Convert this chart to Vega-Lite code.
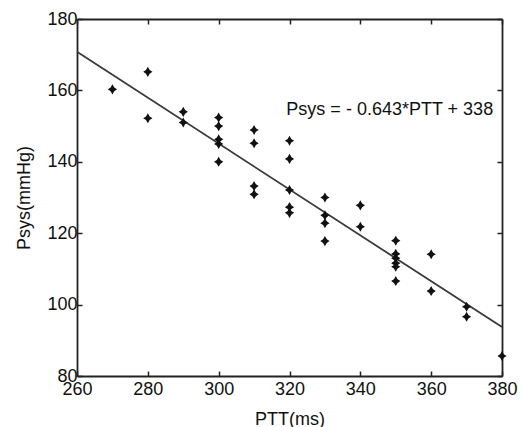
{
  "$schema": "https://vega.github.io/schema/vega-lite/v6.json",
  "width": 425,
  "height": 357,
  "autosize": "none",
  "padding": {"left": 77, "top": 19, "right": 21, "bottom": 51},
  "background": "white",
  "config": {
    "view": {"stroke": null},
    "font": "Liberation Sans",
    "axis": {
      "grid": false,
      "domainColor": "#222",
      "domainWidth": 1.8,
      "tickColor": "#222",
      "tickWidth": 1.5,
      "tickSize": -5,
      "labelFont": "Liberation Sans",
      "labelFontSize": 18,
      "labelColor": "#111",
      "labelFlush": false,
      "labelOverlap": false,
      "titleFont": "Liberation Sans",
      "titleFontSize": 18,
      "titleFontWeight": "normal",
      "titleColor": "#111"
    }
  },
  "datasets": {
    "points": [
      {"PTT": 270, "Psys": 160.3},
      {"PTT": 280, "Psys": 165.2}, {"PTT": 280, "Psys": 152.2},
      {"PTT": 290, "Psys": 154}, {"PTT": 290, "Psys": 151},
      {"PTT": 300, "Psys": 152.4}, {"PTT": 300, "Psys": 150}, {"PTT": 300, "Psys": 146.3}, {"PTT": 300, "Psys": 145}, {"PTT": 300, "Psys": 140},
      {"PTT": 310, "Psys": 148.9}, {"PTT": 310, "Psys": 145.2}, {"PTT": 310, "Psys": 133.2}, {"PTT": 310, "Psys": 130.9},
      {"PTT": 320, "Psys": 145.9}, {"PTT": 320, "Psys": 140.8}, {"PTT": 320, "Psys": 132.1}, {"PTT": 320, "Psys": 127.3}, {"PTT": 320, "Psys": 125.7},
      {"PTT": 330, "Psys": 130}, {"PTT": 330, "Psys": 125}, {"PTT": 330, "Psys": 122.8}, {"PTT": 330, "Psys": 117.8},
      {"PTT": 340, "Psys": 127.8}, {"PTT": 340, "Psys": 121.8},
      {"PTT": 350, "Psys": 117.9}, {"PTT": 350, "Psys": 114.2}, {"PTT": 350, "Psys": 113}, {"PTT": 350, "Psys": 111.6}, {"PTT": 350, "Psys": 110.6}, {"PTT": 350, "Psys": 106.6},
      {"PTT": 360, "Psys": 114.1}, {"PTT": 360, "Psys": 103.8},
      {"PTT": 370, "Psys": 99.4}, {"PTT": 370, "Psys": 96.6},
      {"PTT": 380, "Psys": 85.6}
    ],
    "fit": [
      {"PTT": 260, "Psys": 170.8},
      {"PTT": 380, "Psys": 93.7}
    ],
    "label": [
      {"PTT": 377.5, "Psys": 154.5, "text": "Psys = - 0.643*PTT + 338"}
    ]
  },
  "layer": [
    {
      "data": {"name": "fit"},
      "mark": {"type": "line", "color": "#3a3a3a", "strokeWidth": 1.8},
      "encoding": {
        "x": {"field": "PTT", "type": "quantitative", "scale": {"domain": [260, 380], "nice": false, "zero": false},
              "axis": {"title": "PTT(ms)", "values": [260, 280, 300, 320, 340, 360, 380], "labelPadding": 9, "titlePadding": 12}},
        "y": {"field": "Psys", "type": "quantitative", "scale": {"domain": [80, 180], "nice": false, "zero": false},
              "axis": {"title": "Psys(mmHg)", "values": [80, 100, 120, 140, 160, 180], "labelPadding": 5, "titlePadding": 13}}
      }
    },
    {
      "data": {"name": "fit"},
      "mark": {"type": "line", "opacity": 0},
      "encoding": {
        "x": {"field": "PTT", "type": "quantitative", "scale": {"domain": [260, 380], "nice": false, "zero": false},
              "axis": {"orient": "top", "title": null, "labels": false, "values": [260, 280, 300, 320, 340, 360, 380]}},
        "y": {"field": "Psys", "type": "quantitative", "scale": {"domain": [80, 180], "nice": false, "zero": false},
              "axis": {"orient": "right", "title": null, "labels": false, "values": [80, 100, 120, 140, 160, 180]}}
      }
    },
    {
      "data": {"name": "points"},
      "mark": {"type": "point", "shape": "M0,-1.1L0.4,-0.4L1,0L0.4,0.4L0,1.1L-0.4,0.4L-1,0L-0.4,-0.4Z", "filled": true, "color": "#111", "size": 85, "opacity": 1},
      "encoding": {
        "x": {"field": "PTT", "type": "quantitative", "axis": null},
        "y": {"field": "Psys", "type": "quantitative", "axis": null}
      }
    },
    {
      "data": {"name": "label"},
      "mark": {"type": "text", "align": "right", "baseline": "middle", "fontSize": 18, "font": "Liberation Sans", "color": "#111"},
      "encoding": {
        "x": {"field": "PTT", "type": "quantitative", "axis": null},
        "y": {"field": "Psys", "type": "quantitative", "axis": null},
        "text": {"field": "text"}
      }
    }
  ],
  "resolve": {"axis": {"x": "independent", "y": "independent"}}
}
